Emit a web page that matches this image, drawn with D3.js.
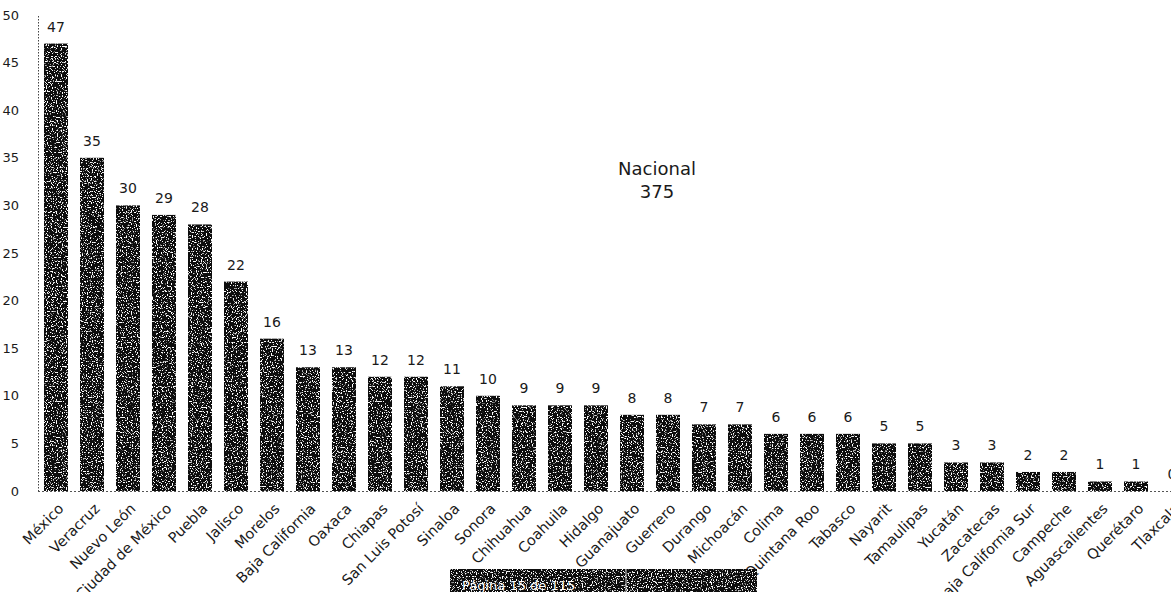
<!DOCTYPE html>
<html>
<head>
<meta charset="utf-8">
<script src="https://cdn.jsdelivr.net/npm/d3@7"></script>
<style>
  body { margin: 0; background: #fff; overflow: hidden; }
  text { font-family: "DejaVu Sans", "Noto Sans", sans-serif; fill: #1a1a1a; }
</style>
</head>
<body>
<div class="chart"></div>
<script>
var svgWidth = 1171;
var svgHeight = 592;

// data
var states = ["México", "Veracruz", "Nuevo León", "Ciudad de México", "Puebla", "Jalisco",
  "Morelos", "Baja California", "Oaxaca", "Chiapas", "San Luis Potosí", "Sinaloa", "Sonora",
  "Chihuahua", "Coahuila", "Hidalgo", "Guanajuato", "Guerrero", "Durango", "Michoacán",
  "Colima", "Quintana Roo", "Tabasco", "Nayarit", "Tamaulipas", "Yucatán", "Zacatecas",
  "Baja California Sur", "Campeche", "Aguascalientes", "Querétaro", "Tlaxcala"];
var counts = [47, 35, 30, 29, 28, 22, 16, 13, 13, 12, 12, 11, 10, 9, 9, 9, 8, 8, 7, 7,
  6, 6, 6, 5, 5, 3, 3, 2, 2, 1, 1, 0];
var yTicks = [0, 5, 10, 15, 20, 25, 30, 35, 40, 45, 50];
var totalLabel = ["Nacional", "375"];

var data = states.map(function (s, i) { return { state: s, value: counts[i] }; });

var svg = d3.select(".chart")
  .append("svg")
  .attr("width", svgWidth)
  .attr("height", svgHeight);

// plot area (the scan cuts off the last bar at the right)
var x = d3.scaleBand()
  .domain(states)
  .range([38, 38 + 32 * 36])
  .paddingInner(1 / 3)
  .paddingOuter(1 / 6);

var y = d3.scaleLinear()
  .domain([0, 50])
  .range([491, 15]);

// y axis: dotted line + labels, no ticks
var yAxis = svg.append("g")
  .attr("transform", "translate(38,0)")
  .call(d3.axisLeft(y).tickValues(yTicks).tickSize(0).tickPadding(19));
yAxis.select(".domain")
  .attr("stroke", "#444")
  .attr("stroke-dasharray", "1.5,1.5");
yAxis.selectAll("text")
  .attr("font-size", "13px")
  .style("font-family", "'DejaVu Sans', sans-serif")
  .attr("fill", "#1a1a1a");

// baseline
svg.append("line")
  .attr("x1", 38).attr("x2", svgWidth)
  .attr("y1", y(0) + 0.5).attr("y2", y(0) + 0.5)
  .attr("stroke", "#555")
  .attr("stroke-dasharray", "2,2");

// speckled fill like the scanned bars
var defs = svg.append("defs");
var f = defs.append("filter").attr("id", "speckle")
  .attr("x", 0).attr("y", 0).attr("width", 1).attr("height", 1);
f.append("feTurbulence").attr("type", "fractalNoise")
  .attr("baseFrequency", 0.8).attr("numOctaves", 1).attr("seed", 3).attr("result", "n");
f.append("feColorMatrix").attr("in", "n").attr("type", "matrix")
  .attr("values", "0 0 0 0 1  0 0 0 0 1  0 0 0 0 1  0 0 0 -12 5.1")
  .attr("result", "dots");
f.append("feComposite").attr("in", "dots").attr("in2", "SourceGraphic")
  .attr("operator", "in").attr("result", "d2");
f.append("feMerge").selectAll("feMergeNode")
  .data(["SourceGraphic", "d2"]).enter()
  .append("feMergeNode").attr("in", d => d);

svg.append("g").selectAll("rect")
  .data(data)
  .enter().append("rect")
  .attr("x", d => x(d.state))
  .attr("y", d => y(d.value))
  .attr("width", x.bandwidth())
  .attr("height", d => y(0) - y(d.value))
  .attr("fill", "#111")
  .attr("filter", "url(#speckle)");

// value labels
svg.append("g").selectAll("text")
  .data(data)
  .enter().append("text")
  .attr("x", d => x(d.state) + x.bandwidth() / 2)
  .attr("y", d => y(d.value) - 12)
  .attr("text-anchor", "middle")
  .attr("font-size", "14px")
  .text(d => d.value);

// category labels, rotated
svg.append("g").selectAll("text")
  .data(data)
  .enter().append("text")
  .attr("transform", d => `translate(${x(d.state) + x.bandwidth() / 2 + 5}, 506) rotate(-45)`)
  .attr("text-anchor", "end")
  .attr("dy", "0.35em")
  .attr("font-size", "14.5px")
  .text(d => d.state);

// national total
svg.append("text")
  .attr("y", 175)
  .attr("text-anchor", "middle")
  .attr("font-size", "18px")
  .selectAll("tspan")
  .data(totalLabel).enter()
  .append("tspan")
  .attr("x", 657)
  .attr("dy", (d, i) => i ? "1.25em" : 0)
  .text(d => d);

// page footer from the scan
var foot = svg.append("g");
foot.append("rect")
  .attr("x", 450).attr("y", 569).attr("width", 307).attr("height", 30)
  .attr("fill", "#111").attr("filter", "url(#speckle)");
foot.append("line")
  .attr("x1", 626).attr("x2", 626).attr("y1", 569).attr("y2", 592)
  .attr("stroke", "#ddd").attr("stroke-width", 1);
foot.append("text")
  .attr("x", 462).attr("y", 590)
  .attr("font-size", "13px")
  .style("fill", "#fff")
  .text("Página   15   de   115");
</script>
</body>
</html>
